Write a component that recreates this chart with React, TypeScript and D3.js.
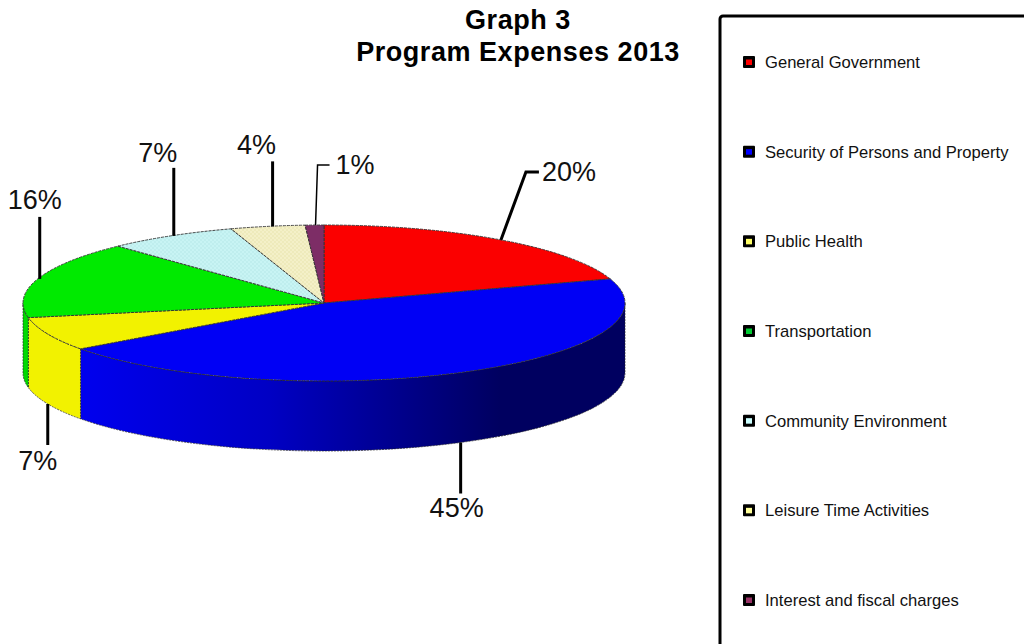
import React from "react";
import * as d3 from "d3";

// Program expense shares for 2013, in percent
const categories = [
  "General Government",
  "Security of Persons and Property",
  "Public Health",
  "Transportation",
  "Community Environment",
  "Leisure Time Activities",
  "Interest and fiscal charges",
];
const shares = [20, 45, 7, 16, 7, 4, 1];
const topColors = ["#fb0000", "#0000f5", "#f2f200", "#00ea00", "url(#cyanWeave)", "url(#creamWeave)", "#7d2d66"];
const wallColors = ["#fb0000", "url(#blueWall)", "#f2f200", "#00d800", "#c4f2f2", "#f2eec4", "#7d2d66"];
const legendColors = ["#ff0000", "#0000ff", "#ffff66", "#00cc33", "#ccffff", "#ffff99", "#993366"];
const titleLines = ["Graph 3", "Program Expenses 2013"];

const CX = 324;
const CY = 303;
const RX = 301;
const RY = 78;
const DEPTH = 70;

// Label placement relative to where each leader leaves the pie
const leaders = [
  { shift: 0, bend: [25, -68], end: [38, -68], text: [41, -68], anchor: "start", thin: false },
  { shift: 0, bend: null, end: [0, 51], text: [-4, 65], anchor: "middle", thin: false },
  { shift: 0, bend: null, end: [0, 41], text: [-10, 57], anchor: "middle", thin: false },
  { shift: 2, bend: null, end: [0, -62], text: [-5, -79], anchor: "middle", thin: false },
  { shift: 3, bend: null, end: [0, -68], text: [-16, -83], anchor: "middle", thin: false },
  { shift: 5, bend: null, end: [0, -65], text: [-16, -82], anchor: "middle", thin: false },
  { shift: 1, bend: [2, -60], end: [14, -60], text: [20, -60], anchor: "start", thin: true },
];

const FONT = "'Liberation Sans', Arial, sans-serif";
const px = (a: number) => CX + RX * Math.sin(a);
const py = (a: number) => CY - RY * Math.cos(a);

// Wall of the cylinder between two angles, both on the front half of the ellipse
function wallPath(a0: number, a1: number) {
  const arcTo = (x: number, y: number, sweep: number) =>
    `A${RX},${RY} 0 0 ${sweep} ${x},${y}`;
  return (
    `M${px(a0)},${py(a0)}` +
    arcTo(px(a1), py(a1), 1) +
    `L${px(a1)},${py(a1) + DEPTH}` +
    arcTo(px(a0), py(a0) + DEPTH, 0) +
    "Z"
  );
}

export default function App() {
  const pieData = d3.pie<number>().sort(null).startAngle(0).endAngle(2 * Math.PI)(shares);
  const arc = d3.arc<d3.PieArcDatum<number>>().innerRadius(0).outerRadius(RX);
  const legendY = d3.scalePoint<string>().domain(categories).range([62, 600]);
  const front0 = Math.PI / 2;
  const front1 = (3 * Math.PI) / 2;
  // Keeps the weave square although the top face is squashed vertically
  const weaveTransform = `scale(1,${RX / RY})`;

  return (
    <svg
      width={1024}
      height={644}
      viewBox="0 0 1024 644"
      style={{ position: "absolute", left: 0, top: 0, display: "block", background: "#fff" }}
      fontFamily={FONT}
    >
      <defs>
        <linearGradient id="blueWall" gradientUnits="userSpaceOnUse" x1={81} x2={500} y1={0} y2={0}>
          <stop offset="0" stopColor="#0000ee" />
          <stop offset="0.45" stopColor="#0000c4" />
          <stop offset="1" stopColor="#000060" />
        </linearGradient>
        <pattern id="cyanWeave" patternUnits="userSpaceOnUse" width={4} height={4} patternTransform={weaveTransform}>
          <rect width={4} height={4} fill="#c8f4f4" />
          <rect width={2} height={2} fill="#bfeeee" />
          <rect x={2} y={2} width={2} height={2} fill="#bfeeee" />
        </pattern>
        <pattern id="creamWeave" patternUnits="userSpaceOnUse" width={4} height={4} patternTransform={weaveTransform}>
          <rect width={4} height={4} fill="#f4f0c8" />
          <rect width={2} height={2} fill="#eeeabb" />
          <rect x={2} y={2} width={2} height={2} fill="#eeeabb" />
        </pattern>
      </defs>

      {titleLines.map((t, i) => (
        <text
          key={t}
          x={518}
          y={28.5 + i * 32.5}
          textAnchor="middle"
          fontWeight="bold"
          fontSize={27}
          letterSpacing={0.55}
          fill="#000"
        >
          {t}
        </text>
      ))}

      {/* cylinder wall, front half only */}
      {pieData.map((d, i) => {
        const a0 = Math.max(d.startAngle, front0);
        const a1 = Math.min(d.endAngle, front1);
        if (a1 <= a0) return null;
        return (
          <path key={i} d={wallPath(a0, a1)} fill={wallColors[i]} stroke="#222" strokeWidth={0.7} strokeDasharray="2 1" />
        );
      })}

      {/* top face */}
      <g transform={`translate(${CX},${CY}) scale(1,${RY / RX})`}>
        {pieData.map((d, i) => (
          <path
            key={i}
            d={arc(d) ?? ""}
            fill={topColors[i]}
            stroke="#333"
            strokeWidth={0.9}
            strokeDasharray="3 1"
            vectorEffect="non-scaling-stroke"
          />
        ))}
      </g>

      {/* leaders and percentage labels */}
      {pieData.map((d, i) => {
        const mid = (d.startAngle + d.endAngle) / 2;
        const front = Math.cos(mid) < 0;
        const l = leaders[i];
        const x0 = px(mid) + l.shift;
        const y0 = py(mid) + (front ? DEPTH : 0);
        const pts: [number, number][] = [[x0, y0]];
        if (l.bend) pts.push([x0 + l.bend[0], y0 + l.bend[1]]);
        pts.push([x0 + l.end[0], y0 + l.end[1]]);
        return (
          <g key={i}>
            <path d={d3.line()(pts) ?? ""} fill="none" stroke="#000" strokeWidth={l.thin ? 1.5 : 3} />
            <text
              x={x0 + l.text[0]}
              y={y0 + l.text[1]}
              dy="0.35em"
              textAnchor={l.anchor as "start" | "middle"}
              fontSize={27}
              fill="#111"
            >
              {d.data}%
            </text>
          </g>
        );
      })}

      {/* legend panel runs off the right and bottom of the page */}
      <rect x={720} y={16} width={400} height={720} rx={3} fill="none" stroke="#000" strokeWidth={3} />
      {categories.map((c, i) => {
        const y = legendY(c) ?? 0;
        return (
          <g key={c}>
            <rect x={743} y={y - 6} width={12} height={12} rx={1} fill="#000" />
            <rect x={746} y={y - 2.5} width={6} height={5.5} fill={legendColors[i]} />
            <text x={765} y={y} dy="0.36em" fontSize={16.6} fill="#111">
              {c}
            </text>
          </g>
        );
      })}
    </svg>
  );
}
